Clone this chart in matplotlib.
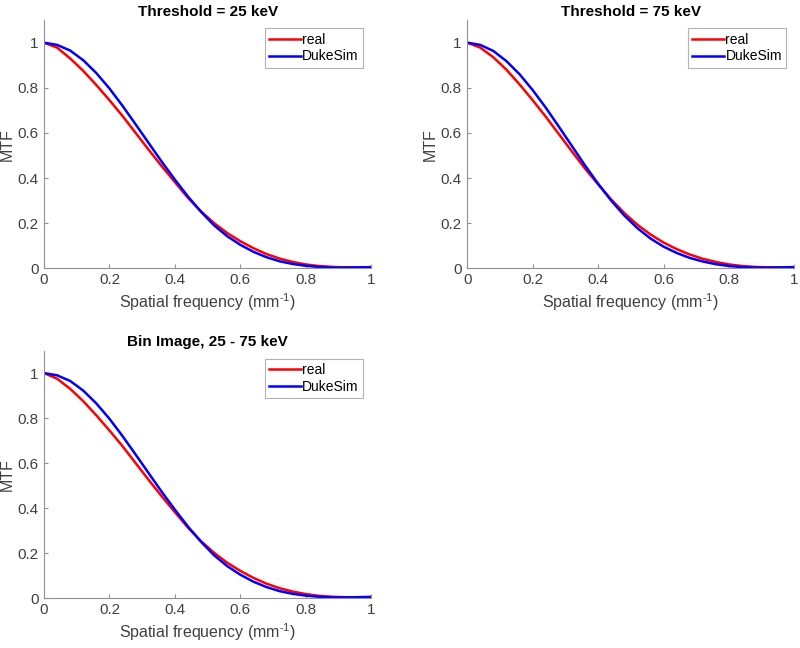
import numpy as np
import matplotlib
matplotlib.use("Agg")
import matplotlib.pyplot as plt

plt.rcParams['font.family'] = ['Liberation Sans', 'DejaVu Sans']
plt.rcParams['mathtext.fontset'] = 'custom'
plt.rcParams['mathtext.rm'] = 'Liberation Sans'
plt.rcParams['mathtext.it'] = 'Liberation Sans:italic'

# spatial frequency samples (mm^-1)
freq = np.linspace(0, 1, 26)

# Threshold = 25 keV
real_25 = [1.0, 0.978, 0.93, 0.875, 0.812, 0.745, 0.675, 0.60, 0.525, 0.452,
           0.382, 0.312, 0.252, 0.200, 0.156, 0.120, 0.089, 0.063, 0.043, 0.028,
           0.017, 0.010, 0.006, 0.004, 0.004, 0.005]
duke_25 = [1.0, 0.99, 0.965, 0.922, 0.865, 0.797, 0.72, 0.638, 0.555, 0.472,
           0.393, 0.318, 0.250, 0.190, 0.142, 0.104, 0.073, 0.049, 0.031, 0.019,
           0.011, 0.006, 0.003, 0.003, 0.004, 0.005]

# Threshold = 75 keV
real_75 = [1.0, 0.978, 0.935, 0.88, 0.815, 0.745, 0.672, 0.595, 0.518, 0.442,
           0.372, 0.305, 0.245, 0.193, 0.150, 0.114, 0.085, 0.061, 0.042, 0.028,
           0.017, 0.010, 0.006, 0.004, 0.004, 0.005]
duke_75 = [1.0, 0.99, 0.963, 0.918, 0.86, 0.79, 0.712, 0.628, 0.542, 0.456,
           0.375, 0.300, 0.234, 0.178, 0.132, 0.096, 0.068, 0.046, 0.030, 0.018,
           0.010, 0.005, 0.003, 0.003, 0.004, 0.005]

# Bin Image, 25 - 75 keV
real_bin = [1.0, 0.975, 0.93, 0.875, 0.812, 0.745, 0.675, 0.60, 0.525, 0.452,
            0.382, 0.313, 0.253, 0.201, 0.157, 0.121, 0.090, 0.064, 0.044, 0.029,
            0.018, 0.010, 0.006, 0.004, 0.004, 0.005]
duke_bin = [1.0, 0.99, 0.965, 0.922, 0.865, 0.797, 0.72, 0.638, 0.555, 0.472,
            0.393, 0.318, 0.250, 0.190, 0.142, 0.104, 0.073, 0.049, 0.031, 0.019,
            0.011, 0.006, 0.003, 0.003, 0.004, 0.005]

titles = ["Threshold = 25 keV", "Threshold = 75 keV", "Bin Image, 25 - 75 keV"]
reals = [real_25, real_75, real_bin]
dukes = [duke_25, duke_75, duke_bin]

fig = plt.figure(figsize=(8, 6.48), dpi=100)
positions = [[0.055, 0.586, 0.409, 0.383],
             [0.584, 0.586, 0.409, 0.383],
             [0.055, 0.077, 0.409, 0.382]]

gray = '#404040'
for pos, title, r, d in zip(positions, titles, reals, dukes):
    ax = fig.add_axes(pos)
    ax.plot(freq, r, color='#ff0000', lw=1.8, label='real')
    ax.plot(freq, d, color='#0000ff', lw=1.8, label='DukeSim')
    ax.set_xlim(0, 1)
    ax.set_ylim(0, 1.1)
    ax.set_xticks([0, 0.2, 0.4, 0.6, 0.8, 1])
    ax.set_xticklabels(['0', '0.2', '0.4', '0.6', '0.8', '1'])
    ax.set_yticks([0, 0.2, 0.4, 0.6, 0.8, 1])
    ax.set_yticklabels(['0', '0.2', '0.4', '0.6', '0.8', '1'])
    ax.spines['top'].set_visible(False)
    ax.spines['right'].set_visible(False)
    for s in ['left', 'bottom']:
        ax.spines[s].set_color('#909090')
        ax.spines[s].set_linewidth(0.8)
    ax.tick_params(direction='in', length=3, width=0.8, colors='#909090',
                   labelcolor=gray, labelsize=11)
    ax.tick_params(axis='y', pad=4)
    ax.set_title(title, fontsize=11, fontweight='bold', pad=3)
    ax.set_xlabel(r'Spatial frequency (mm$^{\text{-}1}$)', fontsize=11.5, color=gray,
                  labelpad=3)
    ax.set_ylabel('MTF', fontsize=11.5, color=gray, labelpad=2)
    leg = ax.legend(loc='upper right', fontsize=10, frameon=True, fancybox=False,
                    handlelength=2.3, borderaxespad=0.6, handletextpad=0.1,
                    borderpad=0.3, labelspacing=0.2)
    leg.get_frame().set_edgecolor('#a0a0a0')
    leg.get_frame().set_linewidth(0.8)

fig.savefig('out.png', dpi=100)
